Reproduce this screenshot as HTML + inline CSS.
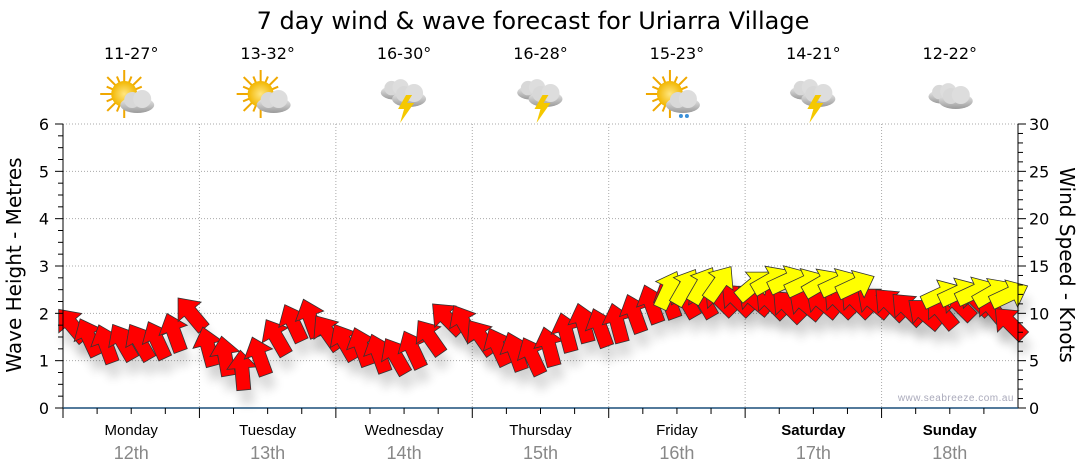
<!DOCTYPE html>
<html><head><meta charset="utf-8"><style>
body{margin:0;background:#fff;}
svg{display:block;font-family:"Liberation Sans","DejaVu Sans",sans-serif;}
</style></head><body>
<svg id="chart" width="1080" height="475" viewBox="0 0 1080 475">
<defs>
<filter id="sh" x="-50%" y="-50%" width="200%" height="200%"><feGaussianBlur stdDeviation="5"/></filter>
<radialGradient id="sun" cx="50%" cy="50%" r="50%"><stop offset="0" stop-color="#ffe680"/><stop offset="1" stop-color="#f2b600"/></radialGradient>
<linearGradient id="cloud" x1="0" y1="0" x2="0" y2="1"><stop offset="0" stop-color="#f0f0f0"/><stop offset="1" stop-color="#9a9a9a"/></linearGradient>
</defs>
<text x="533" y="29" text-anchor="middle" font-size="24" font-family="DejaVu Sans, sans-serif">7 day wind &amp; wave forecast for Uriarra Village</text>
<g id="hdr"></g>
<g id="grid"></g>
<g id="shadows"></g>
<g id="marks"></g>
<g id="axes"></g>
<text x="1014" y="401" text-anchor="end" font-size="10" fill="#aab" letter-spacing="0.5">www.seabreeze.com.au</text>
<text transform="translate(21,265) rotate(-90)" text-anchor="middle" font-size="20" font-family="DejaVu Sans, sans-serif">Wave Height - Metres</text>
<text transform="translate(1060,265) rotate(90)" text-anchor="middle" font-size="20" font-family="DejaVu Sans, sans-serif">Wind Speed - Knots</text>
</svg>
<script>
const days = ["Monday","Tuesday","Wednesday","Thursday","Friday","Saturday","Sunday"];
const dates = ["12th","13th","14th","15th","16th","17th","18th"];
const temps = ["11-27°","13-32°","16-30°","16-28°","15-23°","14-21°","12-22°"];
const icons = ["partly","partly","storm","storm","shower","storm","cloudy"];
const waveTicks = [0,1,2,3,4,5,6];
const knotTicks = [0,5,10,15,20,25,30];
// 3-hourly wind speed (knots), from Monday 00:00
const windSpeed = [8.8,7.5,6.8,7,7,7.2,8,10, 6.5,5.5,4,5.5,7.5,9,9.5,8, 7,6.5,5.8,5.5,6.2,7.5,9.5,9, 7.5,6.5,6,5.5,6.5,8,9,8.5, 9,10,11,11.5,11.5,11.5,11.5,11.5, 11.5,11.2,10.8,11,11.2,11.3,11.3,11.2, 11,10.5,10,10.2,11,11.5,10.5,9];
const windDir = [140,155,160,150,150,155,160,140, 165,170,175,160,150,155,160,145, 150,160,160,150,155,145,135,150, 145,155,160,155,165,165,165,160, 165,160,160,160,150,150,135,135, 130,135,135,130,130,135,135,130, 135,135,130,140,135,135,140,135];
const gustSpeed = [null,null,null,null,null,null,null,null, null,null,null,null,null,null,null,null, null,null,null,null,null,null,null,null, null,null,null,null,null,null,null,null, null,null,null,12.5,12.8,13,13.2,null, 13,13.5,13.5,13.2,13.2,13.2,13,null, null,null,null,12,12.2,12.3,12.2,12];
const gustDir = [0,0,0,0,0,0,0,0, 0,0,0,0,0,0,0,0, 0,0,0,0,0,0,0,0, 0,0,0,0,0,0,0,0, 0,0,0,205,210,210,215,0, 230,240,245,245,240,245,245,0, 0,0,0,245,245,245,240,245];

const NS="http://www.w3.org/2000/svg";
const X0=63,X1=1018,Y0=408,Y1=124,DAYW=(X1-X0)/7;
const xT=h=>X0+h/24*DAYW;
const yW=m=>Y0-(m/6)*(Y0-Y1);
const yK=k=>Y0-(k/30)*(Y0-Y1);
function el(t,a,p){const e=document.createElementNS(NS,t);for(const k in a)e.setAttribute(k,a[k]);p.appendChild(e);return e;}
const grid=document.getElementById('grid'),axes=document.getElementById('axes'),marks=document.getElementById('marks'),hdr=document.getElementById('hdr'),shadows=document.getElementById('shadows');

waveTicks.forEach(v=>{ if(v>0){const l=el('line',{x1:X0,x2:X1,y1:yW(v),y2:yW(v),stroke:'#aaa','stroke-dasharray':'1 2'},grid);

}
const t=el('text',{x:49,y:yW(v)+6,'text-anchor':'end','font-size':16,'font-family':'DejaVu Sans, sans-serif'},axes);t.textContent=v;

});
for(let m=0;m<=24;m++){const y=yW(m/4);el('line',{x1:m%4?X0-5:X0-8,x2:X0,y1:y,y2:y,stroke:'#000'},axes);}
knotTicks.forEach(v=>{const t=el('text',{x:1029,y:yK(v)+6,'font-size':16,'font-family':'DejaVu Sans, sans-serif'},axes);t.textContent=v;

});
for(let k=0;k<=30;k++){const y=yK(k);el('line',{x1:X1,x2:k%5?X1+5:X1+8,y1:y,y2:y,stroke:'#000'},axes);}
el('line',{x1:X0,x2:X0,y1:Y1,y2:Y0,stroke:'#000'},axes);
el('line',{x1:X1,x2:X1,y1:Y1,y2:Y0,stroke:'#000'},axes);
el('line',{x1:X0,x2:X1,y1:Y0,y2:Y0,stroke:'#1a4f7a','stroke-width':1.5},axes);

days.forEach((d,i)=>{
 const xs=X0+i*DAYW,xc=xs+DAYW/2;
 if(i>0){const l=el('line',{x1:xs,x2:xs,y1:Y1,y2:Y0,stroke:'#aaa','stroke-dasharray':'1 2'},grid);
 
 }
 for(let q=0;q<4;q++){const x=xs+q*DAYW/4;el('line',{x1:x,x2:x,y1:Y0,y2:Y0+(q?6:10),stroke:'#000'},axes);}
 const t=el('text',{x:xc,y:435,'text-anchor':'middle','font-size':15,'font-weight':i>=5?'bold':'normal'},axes);t.textContent=d;
 
 
 const t2=el('text',{x:xc,y:459,'text-anchor':'middle','font-size':18,fill:'#888'},axes);t2.textContent=dates[i];
 
 
 const t3=el('text',{x:xc,y:59,'text-anchor':'middle','font-size':16,'font-family':'DejaVu Sans, sans-serif'},hdr);t3.textContent=temps[i];
 
 
 const g=el('g',{transform:`translate(${xc},97)`},hdr);
 
 
 const ic=icons[i];
 if(ic==='partly'||ic==='shower'){
  for(let a=0;a<16;a++){const r=a*Math.PI/8;el('line',{x1:-7+Math.cos(r)*12,y1:-3+Math.sin(r)*12,x2:-7+Math.cos(r)*(a%2?19:24),y2:-3+Math.sin(r)*(a%2?19:24),stroke:'#f0a800','stroke-width':2},g);}
  el('circle',{cx:-7,cy:-3,r:13,fill:'url(#sun)'},g);
 }
 const cl=(dx,dy,s)=>{const c=el('g',{transform:`translate(${dx},${dy}) scale(${s})`},g);
  el('ellipse',{cx:0,cy:4,rx:17,ry:8,fill:'url(#cloud)'},c);el('circle',{cx:-5,cy:-1,r:8,fill:'#d8d8d8'},c);el('circle',{cx:5,cy:-2,r:9,fill:'#ddd'},c);};
 if(ic==='storm'){cl(-8,-8,0.9);cl(5,-2,1);el('polygon',{points:'2,-2 -6,12 0,12 -4,26 10,6 3,6 8,-2',fill:'#f5c800'},g);}
 else if(ic==='cloudy'){cl(-6,-4,0.9);cl(6,0,1);}
 else cl(6,4,1);
 if(ic==='shower'){el('circle',{cx:4,cy:19,r:2,fill:'#3a8fd8'},g);el('circle',{cx:10,cy:19,r:2,fill:'#3a8fd8'},g);}
});

function arrow(x,y,dir,fill,name){
 const b=(dir+180)%360;
 const rot=b-90;
 const pts='-20,-7 2,-7 2,-15 20,0 2,15 2,7 -20,7';
 el('polygon',{points:pts,transform:`translate(${x+4},${y+14}) rotate(${rot})`,fill:'#000',opacity:0.15,filter:'url(#sh)'},shadows);
 const a=el('polygon',{points:pts,transform:`translate(${x},${y}) rotate(${rot})`,fill:fill,stroke:'#333','stroke-width':0.8},marks);
 
 
}
windSpeed.forEach((v,i)=>arrow(xT(i*3+1.5),yK(v),windDir[i],'#ff0000','wind-arrow'));
gustSpeed.forEach((v,i)=>{if(v!==null)arrow(xT(i*3+1.5),yK(v),gustDir[i],'#ffff00','gust-arrow');});
</script>
</body></html>
